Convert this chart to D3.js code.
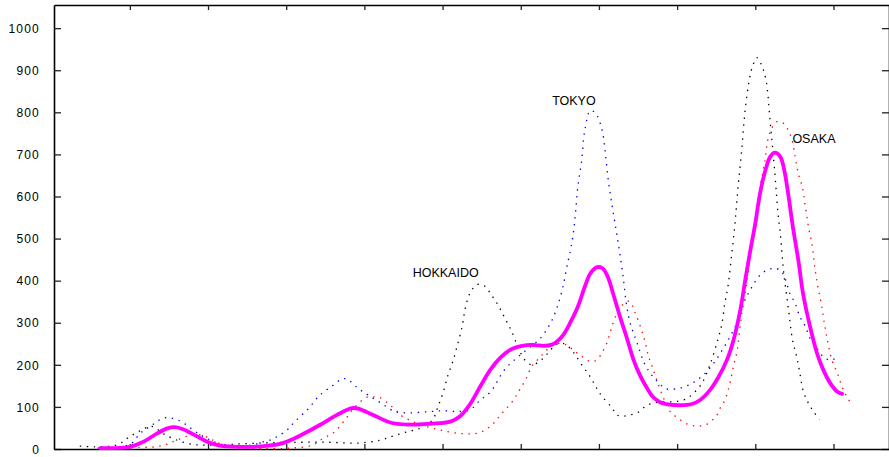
<!DOCTYPE html>
<html>
<head>
<meta charset="utf-8">
<script src="https://cdn.jsdelivr.net/npm/d3@7"></script>
<style>
  html, body { margin: 0; padding: 0; background: #fff; }
  svg { display: block; }
  .tick text { font-family: "Liberation Sans", Arial, sans-serif; font-size: 12px; letter-spacing: 1.2px; fill: #000; }
  .label { font-family: "Liberation Sans", Arial, sans-serif; font-size: 12.5px; fill: #000; }
</style>
</head>
<body>
<svg id="chart" width="889" height="457"></svg>
<script>
// Tick values
const yTickValues = [0, 100, 200, 300, 400, 500, 600, 700, 800, 900, 1000];
const xTickValues = [1, 2, 3, 4, 5, 6, 7, 8, 9, 10];

// Series: [x, value]
const hokkaido = [
  [0.36,7],[0.55,5],[0.84,10],[0.98,27],[1.13,43],[1.28,54],[1.42,37],[1.59,22],[1.77,12],[1.96,9],
  [2.41,12],[2.79,15],[3.18,16],[3.56,16],[3.91,14],[4.20,21],[4.37,31],[4.55,41],[4.71,49],[4.87,69],
  [4.94,100],[5.01,136],[5.07,176],[5.13,207],[5.19,247],[5.25,291],[5.29,334],[5.36,374],[5.45,391],
  [5.54,387],[5.62,367],[5.71,342],[5.80,310],[5.88,281],[5.97,240],[6.05,212],[6.14,200],[6.25,210],
  [6.35,228],[6.45,248],[6.54,251],[6.63,240],[6.72,217],[6.81,192],[6.86,180],[6.91,164],[6.95,152],
  [6.99,138],[7.05,123],[7.17,97],[7.23,81],[7.31,78],[7.40,81],[7.49,86],[7.55,95],[7.63,105],
  [7.72,110],[7.85,112],[7.95,112],[8.04,115],[8.13,120],[8.20,131],[8.27,144],[8.33,160],[8.42,200],
  [8.52,259],[8.57,295],[8.61,346],[8.65,386],[8.70,465],[8.74,536],[8.78,623],[8.83,718],[8.87,805],
  [8.93,884],[8.97,912],[9.02,930],[9.09,908],[9.14,873],[9.19,778],[9.25,655],[9.29,560],[9.32,512],
  [9.36,425],[9.42,338],[9.48,255],[9.53,219],[9.57,180],[9.61,140],[9.66,116],[9.73,93],[9.82,70]
];

const tokyo = [
  [0.59,2],[1.00,11],[1.13,37],[1.22,49],[1.30,59],[1.36,67],[1.44,74],[1.51,74],[1.60,70],[1.71,59],
  [1.81,45],[1.92,32],[2.03,21],[2.18,11],[2.41,8],[2.58,10],[2.70,17],[2.79,21],[2.88,29],[3.01,45],
  [3.11,65],[3.28,95],[3.43,128],[3.59,150],[3.71,166],[3.78,166],[3.92,144],[4.05,128],[4.23,107],
  [4.39,89],[4.58,86],[4.84,89],[5.01,91],[5.19,89],[5.35,93],[5.48,116],[5.61,135],[5.80,190],
  [6.03,229],[6.25,263],[6.38,299],[6.46,334],[6.53,378],[6.59,433],[6.66,497],[6.70,560],[6.73,623],
  [6.78,687],[6.82,758],[6.89,804],[6.96,797],[7.04,758],[7.08,706],[7.12,639],[7.17,576],[7.22,520],
  [7.26,473],[7.31,409],[7.35,346],[7.40,299],[7.49,251],[7.58,204],[7.69,172],[7.82,148],[7.88,142],
  [8.04,145],[8.19,156],[8.33,175],[8.46,202],[8.57,233],[8.68,268],[8.78,306],[8.87,354],[8.96,386],
  [9.06,413],[9.15,425],[9.23,429],[9.32,425],[9.39,401],[9.44,370],[9.51,346],[9.57,314],[9.64,291],
  [9.71,259],[9.79,239],[9.87,219],[9.96,211],[10.02,215]
];

const osaka = [
  [0.75,1],[1.13,4],[1.32,5],[1.45,10],[1.51,14],[1.60,21],[1.71,29],[1.81,35],[1.91,33],[1.99,28],
  [2.06,21],[2.15,13],[2.24,7],[2.41,3],[2.67,1],[3.05,2],[3.33,9],[3.47,25],[3.62,41],[3.75,69],
  [3.88,100],[4.03,123],[4.11,124],[4.20,122],[4.33,104],[4.42,89],[4.46,81],[4.62,65],[4.80,53],
  [4.97,45],[5.13,39],[5.31,36],[5.48,39],[5.63,57],[5.76,85],[5.89,112],[5.97,136],[6.06,164],
  [6.14,196],[6.22,213],[6.31,231],[6.41,248],[6.50,251],[6.59,247],[6.67,235],[6.76,223],[6.86,210],
  [6.93,208],[6.98,213],[7.04,229],[7.10,251],[7.14,275],[7.18,299],[7.23,322],[7.30,342],[7.39,351],
  [7.46,325],[7.53,291],[7.59,255],[7.63,223],[7.68,196],[7.74,164],[7.82,124],[7.91,89],[8.00,75],
  [8.13,59],[8.23,55],[8.36,57],[8.45,69],[8.51,81],[8.55,97],[8.59,108],[8.64,132],[8.68,160],
  [8.72,196],[8.77,235],[8.80,283],[8.84,338],[8.89,394],[8.93,449],[8.97,504],[9.02,568],[9.06,623],
  [9.12,679],[9.16,734],[9.21,762],[9.28,778],[9.36,774],[9.42,758],[9.47,734],[9.51,694],[9.55,655],
  [9.60,623],[9.64,576],[9.68,528],[9.73,481],[9.76,433],[9.80,386],[9.85,338],[9.89,291],[9.93,251],
  [9.98,211],[10.05,180],[10.11,148],[10.17,124],[10.25,102]
];

const combined = [
  [0.62,2],[1.00,5],[1.17,17],[1.35,37],[1.48,49],[1.58,52],[1.68,47],[1.83,33],[1.99,17],[2.15,8],
  [2.41,5],[2.67,6],[2.92,12],[3.09,24],[3.18,32],[3.43,57],[3.65,81],[3.84,97],[3.92,96],[4.11,81],
  [4.33,63],[4.55,58],[4.84,60],[5.10,65],[5.22,77],[5.35,106],[5.48,148],[5.61,188],[5.74,217],
  [5.86,235],[5.95,242],[6.08,247],[6.18,247],[6.29,245],[6.40,248],[6.46,255],[6.54,270],[6.63,299],
  [6.73,338],[6.82,386],[6.89,417],[6.98,432],[7.05,429],[7.12,406],[7.18,370],[7.27,314],[7.36,262],
  [7.44,213],[7.53,173],[7.62,143],[7.69,124],[7.78,111],[7.88,106],[8.04,104],[8.19,107],[8.29,116],
  [8.42,140],[8.52,168],[8.64,213],[8.72,258],[8.81,332],[8.87,400],[8.93,465],[9.00,536],[9.06,607],
  [9.13,663],[9.19,694],[9.25,704],[9.32,694],[9.37,663],[9.42,607],[9.48,528],[9.55,449],[9.61,370],
  [9.70,291],[9.79,227],[9.87,188],[9.96,156],[10.05,136],[10.11,131]
];

// Region labels: [text, x, value]
const labels = [
  ["HOKKAIDO", 5.04, 420],
  ["TOKYO", 6.68, 827],
  ["OSAKA", 9.75, 737]
];

const svg = d3.select("#chart");

const x = d3.scaleLinear().domain([0.03, 10.71]).range([54, 889]);
const y = d3.scaleLinear().domain([0, 1055]).range([449, 5]);

// Axes and frame
function styleAxis(g) {
  g.select(".domain").attr("stroke", "#000").attr("stroke-width", 1.6);
  g.selectAll(".tick line").attr("stroke", "#222").attr("stroke-width", 1.3);
}

svg.append("g").attr("transform", "translate(54,0)")
  .call(d3.axisLeft(y).tickValues(yTickValues).tickSize(-7).tickSizeOuter(0).tickPadding(14).tickFormat(d3.format("d")))
  .call(styleAxis)
  .call(g => g.selectAll(".tick text").attr("dy", "0.35em"));

svg.append("g").attr("transform", "translate(889,0)")
  .call(d3.axisRight(y).tickValues(yTickValues).tickSize(-7).tickSizeOuter(0).tickFormat(""))
  .call(styleAxis);

svg.append("g").attr("transform", "translate(0,449)")
  .call(d3.axisBottom(x).tickValues(xTickValues).tickSize(-5).tickSizeOuter(0).tickFormat(""))
  .call(styleAxis);

svg.append("g").attr("transform", "translate(0,5)")
  .call(d3.axisTop(x).tickValues(xTickValues).tickSize(-5).tickSizeOuter(0).tickFormat(""))
  .call(styleAxis);

// Smooth curves through the sampled points
const line = d3.line()
  .x(d => x(d[0]))
  .y(d => y(d[1]))
  .curve(d3.curveCatmullRom.alpha(0.5));

const dotted = [
  { data: hokkaido, color: "#000000" },
  { data: tokyo, color: "#0000ff" },
  { data: osaka, color: "#ff0000" }
];

svg.append("g").selectAll("path")
  .data(dotted)
  .join("path")
  .attr("d", d => line(d.data))
  .attr("fill", "none")
  .attr("stroke", d => d.color)
  .attr("stroke-width", 1.3)
  .attr("stroke-dasharray", "1.4,5.6");

svg.append("path")
  .attr("d", line(combined))
  .attr("fill", "none")
  .attr("stroke", "#ff00ff")
  .attr("stroke-width", 3.8)
  .attr("stroke-linejoin", "round")
  .attr("stroke-linecap", "round");

svg.append("g").selectAll("text")
  .data(labels)
  .join("text")
  .attr("class", "label")
  .attr("x", d => x(d[1]))
  .attr("y", d => y(d[2]))
  .attr("text-anchor", "middle")
  .attr("dy", "0.36em")
  .text(d => d[0]);
</script>
</body>
</html>
